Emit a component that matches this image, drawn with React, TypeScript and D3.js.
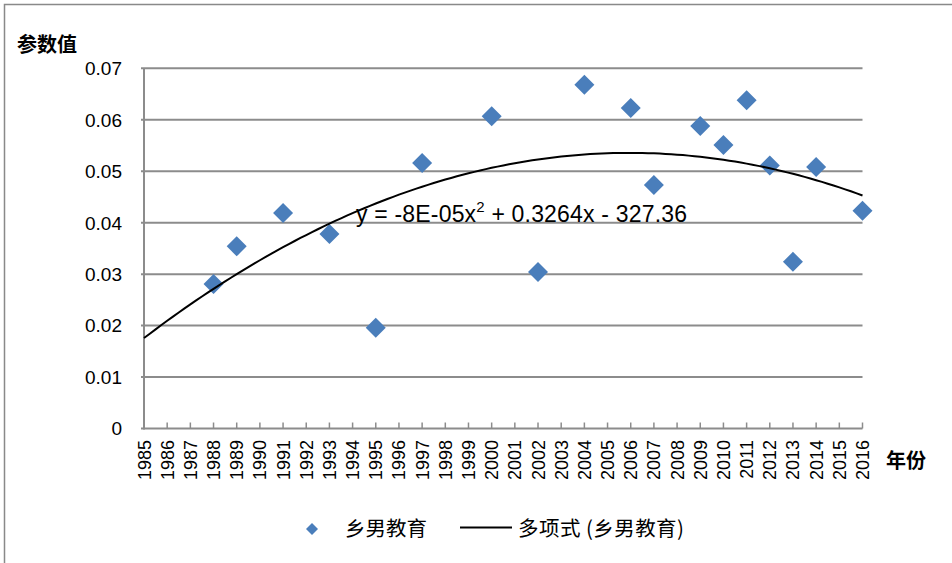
import React from "react";
import * as d3 from "d3";

const years = [1988, 1989, 1991, 1993, 1995, 1997, 2000, 2002, 2004, 2006, 2007, 2009, 2010, 2011, 2012, 2013, 2014, 2016];
const values = [0.0281, 0.0354, 0.0419, 0.0378, 0.0196, 0.0516, 0.0607, 0.0304, 0.0668, 0.0623, 0.0473, 0.0588, 0.0551, 0.0638, 0.0511, 0.0324, 0.0508, 0.0423];
const yTicks = [0, 0.01, 0.02, 0.03, 0.04, 0.05, 0.06, 0.07];
const xYears = d3.range(1985, 2017);
const seriesName = "乡男教育";
const trendName = "多项式 (乡男教育)";
const equation = "y = -8E-05x";
const equationRest = " + 0.3264x - 327.36";
const yTitle = "参数值";
const xTitle = "年份";

// quadratic least squares fit (Excel polynomial trendline, order 2)
function fitQuadratic(xs: number[], ys: number[]) {
  const c = 2000;
  const S = [0, 0, 0, 0, 0];
  const T = [0, 0, 0];
  xs.forEach((x0, i) => {
    const x = x0 - c;
    let p = 1;
    for (let k = 0; k < 5; k++) {
      S[k] += p;
      if (k < 3) T[k] += p * ys[i];
      p *= x;
    }
  });
  const A = [
    [S[0], S[1], S[2], T[0]],
    [S[1], S[2], S[3], T[1]],
    [S[2], S[3], S[4], T[2]],
  ];
  for (let i = 0; i < 3; i++) {
    for (let j = i + 1; j < 3; j++) {
      const f = A[j][i] / A[i][i];
      for (let k = i; k < 4; k++) A[j][k] -= f * A[i][k];
    }
  }
  const b = [0, 0, 0];
  for (let i = 2; i >= 0; i--) {
    let s = A[i][3];
    for (let k = i + 1; k < 3; k++) s -= A[i][k] * b[k];
    b[i] = s / A[i][i];
  }
  return (x: number) => b[0] + b[1] * (x - c) + b[2] * (x - c) * (x - c);
}

export default function App() {
  const x = d3.scaleLinear().domain([1985, 2016]).range([144, 862.5]);
  const y = d3.scaleLinear().domain([0, 0.07]).range([428.5, 68.3]);
  const f = fitQuadratic(years, values);
  const trendPts = d3.range(1985, 2016.001, 0.25).map((t) => [t, f(t)] as [number, number]);
  const line = d3
    .line<[number, number]>()
    .x((d) => x(d[0]))
    .y((d) => y(d[1]))
    .curve(d3.curveLinear);
  const diamond = (cx: number, cy: number, r: number) =>
    `M${cx},${cy - r}L${cx + r},${cy}L${cx},${cy + r}L${cx - r},${cy}Z`;
  const grid = "#8c8c8c";
  const blue = "#4a7ebb";
  const numFont = "'Liberation Sans', Arial, sans-serif";
  const cjkFont = "'Noto Sans CJK SC', sans-serif";

  return (
    <svg
      width={952}
      height={563}
      style={{ position: "absolute", left: 0, top: 0, display: "block", background: "#fff" }}
    >
      <rect x={4.5} y={4.5} width={1000} height={1000} fill="#fff" stroke="#898989" strokeWidth={1.5} />
      {/* gridlines */}
      {yTicks.map((t) => (
        <line key={t} x1={141} x2={x(2016)} y1={y(t)} y2={y(t)} stroke={grid} strokeWidth={2} />
      ))}
      {/* y axis */}
      <line x1={x(1985)} x2={x(1985)} y1={y(0.07)} y2={y(0) + 1} stroke={grid} strokeWidth={2} />
      {/* x ticks */}
      {xYears.map((yr) => (
        <line key={yr} x1={x(yr)} x2={x(yr)} y1={y(0) - 6} y2={y(0)} stroke={grid} strokeWidth={1.5} />
      ))}
      {/* y tick labels */}
      {yTicks.map((t) => (
        <text
          key={t}
          x={122}
          y={y(t)}
          dy="0.36em"
          textAnchor="end"
          fontFamily={numFont}
          fontSize={19}
          fill="#000"
        >
          {t === 0 ? "0" : t.toFixed(2)}
        </text>
      ))}
      {/* x tick labels */}
      {xYears.map((yr) => (
        <text
          key={yr}
          transform={`translate(${x(yr) + 6.5},${440}) rotate(-90)`}
          textAnchor="end"
          fontFamily={numFont}
          fontSize={18}
          fill="#000"
        >
          {yr}
        </text>
      ))}
      {/* axis titles */}
      <text x={17} y={52} fontFamily={cjkFont} fontSize={20} fontWeight="bold" fill="#000">
        {yTitle}
      </text>
      <text x={886} y={468} fontFamily={cjkFont} fontSize={20} fontWeight="bold" fill="#000">
        {xTitle}
      </text>
      {/* points */}
      {years.map((yr, i) => (
        <path key={yr} d={diamond(x(yr), y(values[i]), 10)} fill={blue} />
      ))}
      {/* trendline */}
      <path d={line(trendPts) || ""} fill="none" stroke="#000" strokeWidth={2} />
      {/* equation */}
      <text x={356} y={222} fontFamily={numFont} fontSize={23} fill="#000" textLength={331} lengthAdjust="spacing">
        {equation}
        <tspan dy={-10} fontSize={15}>2</tspan>
        <tspan dy={10}>{equationRest}</tspan>
      </text>
      {/* legend */}
      <path d={diamond(312, 529, 6)} fill={blue} />
      <text x={345} y={535.5} fontFamily={cjkFont} fontSize={20.5} fill="#000">
        {seriesName}
      </text>
      <line x1={460} x2={512} y1={527.5} y2={527.5} stroke="#000" strokeWidth={2} />
      <text x={518} y={535.5} fontFamily={cjkFont} fontSize={20.5} fill="#000" textLength={166} lengthAdjust="spacing">
        {trendName}
      </text>
    </svg>
  );
}
